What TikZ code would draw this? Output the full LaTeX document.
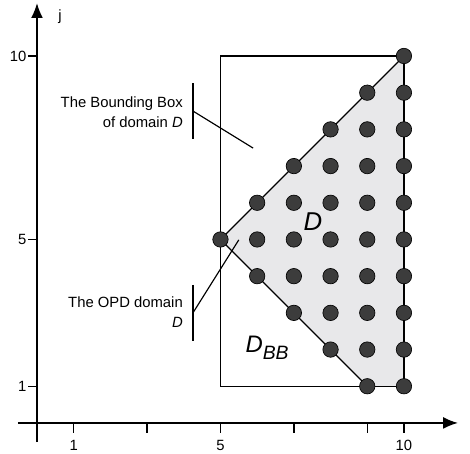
\documentclass[tikz,border=0pt]{standalone}
\usepackage{fontspec}
\setmainfont{Liberation Sans}
\usepackage{tikz}
\usetikzlibrary{positioning, arrows.meta, backgrounds}

\definecolor{domfill}{RGB}{232,232,234}
\definecolor{dotfill}{RGB}{60,60,60}

\begin{document}
\begin{tikzpicture}[
  font=\fontsize{11.5}{15.5}\selectfont,
  axis/.style={line width=1.1pt, -{Latex[length=4mm, width=3.2mm]}},
  edge/.style={line width=0.9pt},
  tick/.style={line width=1pt},
  pt/.style={circle, draw=black, fill=dotfill, line width=0.5pt, minimum size=0.42cm, inner sep=0pt},
  note/.style={align=right, inner sep=0pt, anchor=east},
]
\useasboundingbox (-1.008,-0.845) rectangle (11.8,11.526);

% axes
\coordinate (xs) at (-0.52,0);
\coordinate (xe) at (11.47,0);
\coordinate (ys) at (0,-0.52);
\coordinate (ye) at (0,11.44);
\draw[axis] (xs) -- (xe);
\draw[axis] (ys) -- (ye);
\node (jlab) at (0.63,11.06) {j};

\foreach \i in {1,3,5,7,9,10}
  \draw[tick] (\i,0) -- (\i,-0.27);
\foreach \i in {1,5,10}
  \node (xl\i) at (\i,-0.62) {\i};
\foreach \j in {1,5,10} {
  \draw[tick] (0,\j) -- (-0.25,\j);
  \node[left, inner sep=1pt] (yl\j) at (-0.25,\j) {\j};
}

% grid points of the domain
\foreach \i in {5,...,10} {
  \pgfmathtruncatemacro{\lo}{max(1,10-\i)}
  \foreach \j in {\lo,...,\i}
    \node[pt] (p-\i-\j) at (\i,\j) {};
}

\begin{scope}[on background layer]
  \fill[domfill] (p-5-5.center) -- (p-10-10.center) -- (p-10-1.center) -- (p-9-1.center) -- cycle;
  \coordinate (bb-sw) at (5,1);
  \draw[edge] (bb-sw) rectangle (p-10-10.center);
  \draw[edge] (p-9-1.center) -- (p-5-5.center) -- (p-10-10.center) -- (p-10-1.center);

  % labels
  \node[note] (bblab) at (3.98,8.47) {The Bounding Box\\of domain \textit{D}};
  \coordinate (bb-top) at (4.25,9.26);
  \coordinate (bb-bot) at (4.25,7.74);
  \coordinate (bb-mid) at (4.25,8.50);
  \coordinate (bb-tip) at (5.89,7.49);
  \draw[edge] (bb-top) -- (bb-bot);
  \draw[edge] (bb-mid) -- (bb-tip);

  \node[note] (opdlab) at (3.98,3.02) {The OPD domain\\\textit{D}};
  \coordinate (opd-top) at (4.25,3.76);
  \coordinate (opd-bot) at (4.25,2.23);
  \coordinate (opd-mid) at (4.25,3.00);
  \coordinate (opd-tip) at (5.50,4.99);
  \draw[edge] (opd-top) -- (opd-bot);
  \draw[edge] (opd-mid) -- (opd-tip);
\end{scope}

\node[font=\fontsize{20}{24}\selectfont\itshape] (dom) at (7.52,5.48) {D};
\node[font=\fontsize{18.5}{22}\selectfont\itshape] (dombb) at (6.27,2.05)
  {D\raisebox{-6pt}{\fontsize{15}{18}\selectfont BB}};
\end{tikzpicture}
\end{document}
